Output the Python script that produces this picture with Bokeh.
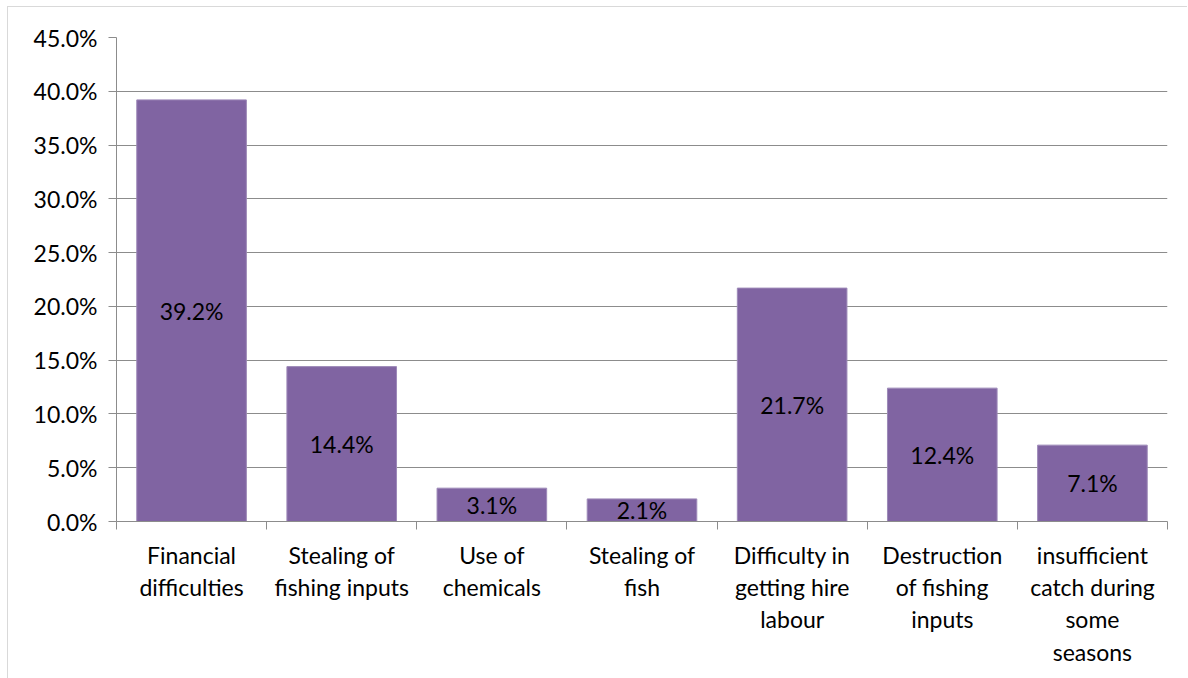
from bokeh.plotting import figure
from bokeh.models import (ColumnDataSource, LinearAxis, FixedTicker, NumeralTickFormatter,
                          Range1d)
from bokeh.core.properties import value
from bokeh.embed import file_html
from bokeh.resources import INLINE

# Constraints reported by fishers (share of respondents)
categories = [
    "Financial\ndifficulties",
    "Stealing of\nfishing inputs",
    "Use of\nchemicals",
    "Stealing of\nfish",
    "Difficulty in\ngetting hire\nlabour",
    "Destruction\nof fishing\ninputs",
    "insufficient\ncatch during\nsome\nseasons",
]
shares = [0.392, 0.144, 0.031, 0.021, 0.217, 0.124, 0.071]
y_ticks = [0.0, 0.05, 0.10, 0.15, 0.20, 0.25, 0.30, 0.35, 0.40, 0.45]

FONT = "Lato"
FONT_SIZE = "23px"
GRID = "#8c8c8c"
BAR = "#8064A2"

n = len(categories)
centers = [i + 0.5 for i in range(n)]
bounds = list(range(n + 1))
src = ColumnDataSource(dict(
    x=centers,
    top=shares,
    mid=[s / 2 for s in shares],
    label=[f"{s * 100:.1f}%" for s in shares],
))

p = figure(width=1180, height=672, output_backend="svg", toolbar_location=None,
           x_range=Range1d(0, n), y_range=Range1d(0, 0.45),
           x_axis_location=None, y_axis_location=None,
           min_border_left=108, min_border_right=21, min_border_top=30, min_border_bottom=158,
           margin=(6, 0, 0, 7),
           styles={"border-top": "1px solid #d9d9d9", "border-left": "1px solid #d9d9d9"})
p.outline_line_color = None
p.background_fill_color = "white"
p.border_fill_color = "white"

# value axis
yax = LinearAxis(ticker=FixedTicker(ticks=y_ticks),
                 formatter=NumeralTickFormatter(format="0.0%"))
yax.axis_line_color = GRID
yax.major_tick_line_color = GRID
yax.major_tick_out = 8
yax.major_tick_in = 0
yax.minor_tick_line_color = None
yax.major_label_standoff = 11
yax.major_label_text_font = FONT
yax.major_label_text_font_size = FONT_SIZE
yax.major_label_text_color = "#000000"
p.add_layout(yax, "left")

# category axis: boundary tick marks only
xax = LinearAxis(ticker=FixedTicker(ticks=bounds),
                 major_label_overrides={b: "" for b in bounds})
xax.axis_line_color = GRID
xax.major_tick_line_color = GRID
xax.major_tick_out = 8
xax.major_tick_in = 0
xax.minor_tick_line_color = None
xax.major_label_standoff = 0
xax.major_label_text_font = FONT
xax.major_label_text_font_size = "10px"
p.add_layout(xax, "below")

# category axis: labels centred under each bar
lax = LinearAxis(ticker=FixedTicker(ticks=centers),
                 major_label_overrides={c: t for c, t in zip(centers, categories)})
lax.axis_line_color = None
lax.major_tick_line_color = None
lax.minor_tick_line_color = None
lax.major_label_standoff = 5
lax.major_label_text_font = FONT
lax.major_label_text_font_size = FONT_SIZE
lax.major_label_text_color = "#000000"
lax.major_label_text_line_height = 1.16
p.add_layout(lax, "below")

p.xgrid.visible = False
p.ygrid.ticker = FixedTicker(ticks=y_ticks)
p.ygrid.grid_line_color = GRID
p.ygrid.grid_line_width = 1.2

p.vbar(x="x", top="top", bottom=0, width=0.73, source=src,
       fill_color=BAR, line_color="#9d89b8", line_width=1)

p.text(x="x", y="mid", text="label", source=src,
       text_align="center", text_baseline="middle",
       text_font=value(FONT), text_font_size=FONT_SIZE, text_color="#000000")

open("out.html", "w").write(file_html(p, INLINE))
